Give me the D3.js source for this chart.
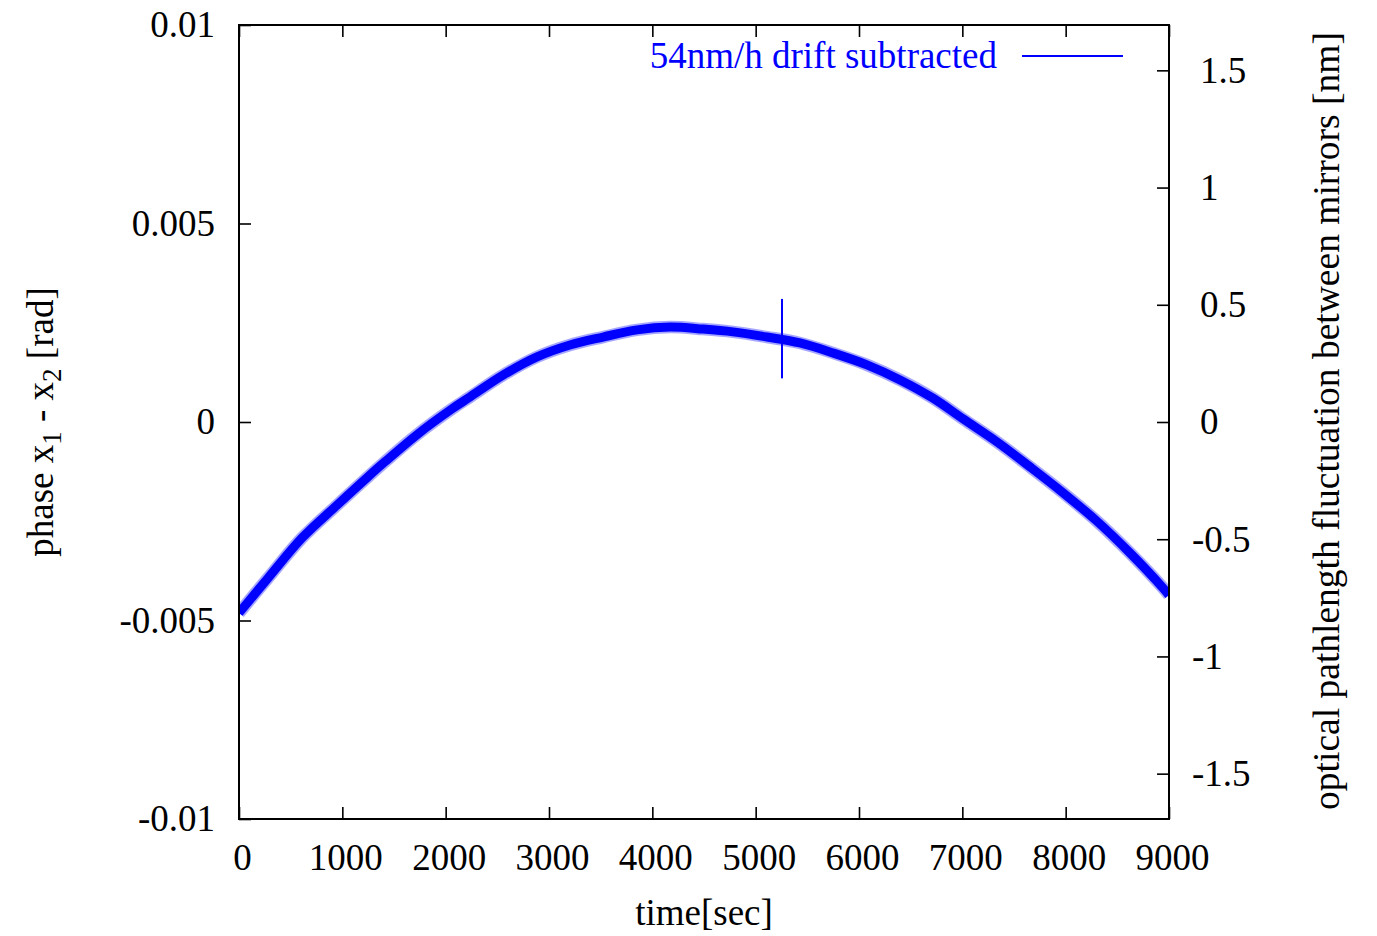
<!DOCTYPE html>
<html>
<head>
<meta charset="utf-8">
<script src="https://cdn.jsdelivr.net/npm/d3@7"></script>
<style>
  html, body { margin: 0; padding: 0; background: #fff; }
  svg text { font-family: "Liberation Serif", "Times New Roman", serif; fill: #000; }
</style>
</head>
<body>
<svg id="chart" width="1377" height="936"></svg>
<script>
// Measured phase difference (drift removed), time in seconds, phase in rad
const timeSec = [0, 281, 610, 929, 1248, 1413, 1732, 2061, 2235, 2555, 2884, 3203, 3523,
  3852, 4171, 4490, 4781, 5110, 5429, 5748, 6077, 6397, 6716, 7006, 7335, 7655,
  7974, 8303, 8623, 8942, 9000];
const phaseRad = [-0.00481, -0.00393, -0.00292, -0.00214, -0.00138, -0.00100, -0.00030,
  0.00033, 0.00063, 0.00118, 0.00164, 0.00194, 0.00214, 0.00232, 0.00239, 0.00234,
  0.00227, 0.00214, 0.00199, 0.00174, 0.00144, 0.00106, 0.00060, 0.00008, -0.00050,
  -0.00113, -0.00178, -0.00250, -0.00330, -0.00418, -0.00436];

// Representative error bar
const errTime = [5255];
const errValue = [0.0021];
const errSize = [0.001];

// Tick values
const xTicks = [0, 1000, 2000, 3000, 4000, 5000, 6000, 7000, 8000, 9000];
const yTicks = [-0.01, -0.005, 0, 0.005, 0.01];
const y2Ticks = [-1.5, -1, -0.5, 0, 0.5, 1, 1.5];

const legendLabel = "54nm/h drift subtracted";
const wavelengthNm = 1064;             // phase -> optical path: nm = rad * lambda / (2 pi)
const radToNm = wavelengthNm / (2 * Math.PI);

const svg = d3.select("#chart");
const mLeft = 239, mRight = 1169, mTop = 25, mBottom = 819;
const FS = 37;
const blue = "#0000ff";

const x = d3.scaleLinear().domain([0, 9000]).range([mLeft, mRight]);
const y = d3.scaleLinear().domain([-0.01, 0.01]).range([mBottom, mTop]);
const y2 = d3.scaleLinear().domain([-0.01 * radToNm, 0.01 * radToNm]).range([mBottom, mTop]);

const fmt = v => String(+v.toFixed(4));
const tickLen = 12;

// Data band
const data = timeSec.map((t, i) => ({ t, v: phaseRad[i] }));
const line = d3.line().x(d => x(d.t)).y(d => y(d.v)).curve(d3.curveCatmullRom.alpha(0.5));
const clipId = "plotclip";
svg.append("clipPath").attr("id", clipId).append("rect")
  .attr("x", mLeft).attr("y", mTop).attr("width", mRight - mLeft).attr("height", mBottom - mTop);
const plot = svg.append("g").attr("clip-path", `url(#${clipId})`);
plot.append("path").datum(data).attr("d", line)
  .attr("fill", "none").attr("stroke", blue).attr("stroke-opacity", 0.35)
  .attr("stroke-width", 12.5).attr("stroke-linejoin", "round");
plot.append("path").datum(data).attr("d", line)
  .attr("fill", "none").attr("stroke", blue)
  .attr("stroke-width", 9).attr("stroke-linejoin", "round");

// Error bar
plot.selectAll("line.err").data(errTime).join("line").attr("class", "err")
  .attr("x1", d => x(d)).attr("x2", d => x(d))
  .attr("y1", (d, i) => y(errValue[i] + errSize[i]))
  .attr("y2", (d, i) => y(errValue[i] - errSize[i]))
  .attr("stroke", blue).attr("stroke-width", 2);

// Axes with inward ticks
const styleAxis = g => {
  g.select(".domain").remove();
  g.selectAll(".tick line").attr("stroke", "#000").attr("stroke-width", 1.6);
  g.selectAll(".tick text").style("font-size", FS + "px")
    .style("font-family", '"Liberation Serif", "Times New Roman", serif').attr("fill", "#000");
};

svg.append("g").attr("transform", `translate(0,${mBottom})`)
  .call(d3.axisBottom(x).tickValues(xTicks).tickSize(-tickLen).tickPadding(14).tickFormat(d3.format("d")))
  .call(styleAxis)
  .call(g => g.selectAll(".tick text").attr("dx", 3).attr("dy", "1.0em"));

svg.append("g").attr("transform", `translate(0,${mTop})`)
  .call(d3.axisTop(x).tickValues(xTicks).tickSize(-tickLen).tickFormat(""))
  .call(styleAxis);

svg.append("g").attr("transform", `translate(${mLeft},0)`)
  .call(d3.axisLeft(y).tickValues(yTicks).tickSize(-tickLen).tickPadding(24).tickFormat(fmt))
  .call(styleAxis)
  .call(g => g.selectAll(".tick text").attr("dy", "0.32em"));

svg.append("g").attr("transform", `translate(${mRight},0)`)
  .call(d3.axisRight(y2).tickValues(y2Ticks).tickSize(-tickLen).tickPadding(31).tickFormat(fmt))
  .call(styleAxis)
  .call(g => g.selectAll(".tick text").attr("dy", "0.32em")
    .attr("dx", d => d < 0 ? -8 : 0));

// Frame
svg.append("rect").attr("x", mLeft).attr("y", mTop)
  .attr("width", mRight - mLeft).attr("height", mBottom - mTop)
  .attr("fill", "none").attr("stroke", "#000").attr("stroke-width", 2);

// Axis titles
svg.append("text").attr("x", 704).attr("y", 925).attr("text-anchor", "middle")
  .style("font-size", FS + "px").text("time[sec]");

const yl = svg.append("text")
  .attr("transform", "translate(53,422) rotate(-90)")
  .attr("text-anchor", "middle").style("font-size", FS + "px");
yl.append("tspan").text("phase x");
yl.append("tspan").attr("dy", 8).style("font-size", "27px").text("1");
yl.append("tspan").attr("dy", -8).text(" - x");
yl.append("tspan").attr("dy", 8).style("font-size", "27px").text("2");
yl.append("tspan").attr("dy", -8).text(" [rad]");

svg.append("text")
  .attr("transform", "translate(1339,421) rotate(-90)")
  .attr("text-anchor", "middle").style("font-size", "37.5px")
  .text("optical pathlength fluctuation between mirrors [nm]");

// Legend
svg.append("text").attr("x", 997).attr("y", 68).attr("text-anchor", "end")
  .style("font-size", FS + "px").style("fill", blue).text(legendLabel);
svg.append("line").attr("x1", 1022).attr("x2", 1123).attr("y1", 56).attr("y2", 56)
  .attr("stroke", blue).attr("stroke-width", 2);
</script>
</body>
</html>
